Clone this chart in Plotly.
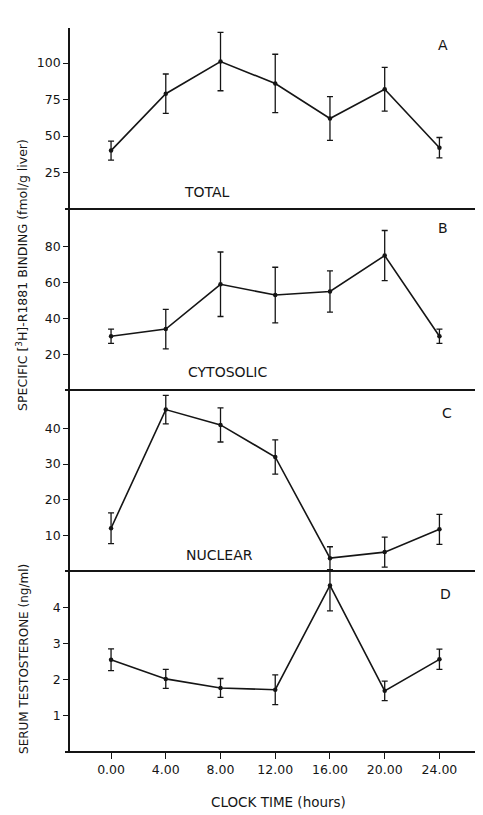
import plotly.graph_objects as go
from plotly.subplots import make_subplots

# ---- data ----
hours = [0, 4, 8, 12, 16, 20, 24]
hour_labels = ["0.00", "4.00", "8.00", "12.00", "16.00", "20.00", "24.00"]

total = [40, 79, 101, 86, 62, 82, 42]
total_err = [6.5, 13.5, 20, 20, 15, 15, 7]

cytosolic = [30, 34, 59, 53, 55, 75, 30]
cytosolic_err = [4, 11, 18, 15.5, 11.5, 14, 4]

nuclear = [12, 45.3, 41, 32, 3.6, 5.3, 11.7]
nuclear_err = [4.3, 4, 4.8, 4.8, 3.2, 4.2, 4.2]

testosterone = [2.55, 2.02, 1.77, 1.72, 4.6, 1.69, 2.56]
testosterone_err = [0.3, 0.26, 0.26, 0.41, 0.7, 0.27, 0.28]

panel_letters = ["A", "B", "C", "D"]
panel_names = ["TOTAL", "CYTOSOLIC", "NUCLEAR"]
y_ranges = [[0, 124], [0, 101], [0, 50.8], [0, 5.0]]
y_ticks = [[25, 50, 75, 100], [20, 40, 60, 80], [10, 20, 30, 40], [1, 2, 3, 4]]

series = [(total, total_err), (cytosolic, cytosolic_err),
          (nuclear, nuclear_err), (testosterone, testosterone_err)]

INK = "#151515"
FONT = "DejaVu Sans"

fig = make_subplots(rows=4, cols=1, shared_xaxes=True, vertical_spacing=0)

for i, (vals, errs) in enumerate(series):
    fig.add_trace(go.Scatter(
        x=hours, y=vals, mode="lines+markers",
        line=dict(color=INK, width=1.6),
        marker=dict(color=INK, size=4.5),
        error_y=dict(type="data", array=errs, visible=True,
                     color=INK, thickness=1.3, width=3),
        showlegend=False,
    ), row=i + 1, col=1)
    fig.update_yaxes(
        range=y_ranges[i], tickvals=y_ticks[i],
        showline=True, linecolor=INK, linewidth=1.6,
        ticks="outside", ticklen=5, tickcolor=INK, tickwidth=1.3,
        showgrid=False, zeroline=False,
        tickfont=dict(family=FONT, size=12.5, color=INK),
        row=i + 1, col=1)
    fig.update_xaxes(range=[-3.0, 26.6], showgrid=False, zeroline=False,
                     showline=False, row=i + 1, col=1)

fig.update_xaxes(
    tickvals=hours, ticktext=hour_labels, showticklabels=True,
    ticks="outside", ticklen=6, tickcolor=INK, tickwidth=1.3,
    tickfont=dict(family=FONT, size=12.5, color=INK),
    row=4, col=1)

# horizontal panel boundary lines
for yb in [0, 0.25, 0.5, 0.75]:
    fig.add_shape(type="line", xref="paper", yref="paper",
                  x0=-5 / 405, x1=1, y0=yb, y1=yb,
                  line=dict(color=INK, width=2))

def note(text, x, y, size, angle=0):
    return dict(text=text, x=x, y=y, xref="paper", yref="paper",
                xanchor="center", yanchor="middle", textangle=angle,
                showarrow=False, font=dict(family=FONT, size=size, color=INK))

annotations = []
letter_pos = [(0.921, 0.9765), (0.921, 0.7238), (0.931, 0.468), (0.926, 0.218)]
for letter, (px, py) in zip(panel_letters, letter_pos):
    annotations.append(note(letter, px, py, 14))
name_pos = [(0.338, 0.7735), (0.390, 0.525), (0.370, 0.272)]
for name, (px, py) in zip(panel_names, name_pos):
    annotations.append(note(name, px, py, 14))

annotations.append(note("SPECIFIC [<sup>3</sup>H]-R1881 BINDING (fmol/g liver)",
                        -0.1185, 0.659, 12.5, -90))
annotations.append(note("SERUM TESTOSTERONE (ng/ml)", -0.1136, 0.1285, 12, -90))
annotations.append(note("CLOCK TIME (hours)", 0.516, -0.069, 13.5))

# page has an 8px body margin, so the figure is offset by 8px
fig.update_layout(
    width=475, height=807,
    margin=dict(l=62, r=8, t=20, b=63),
    plot_bgcolor="white", paper_bgcolor="white",
    annotations=annotations,
    font=dict(family=FONT, color=INK),
)

fig.write_html("out.html")
